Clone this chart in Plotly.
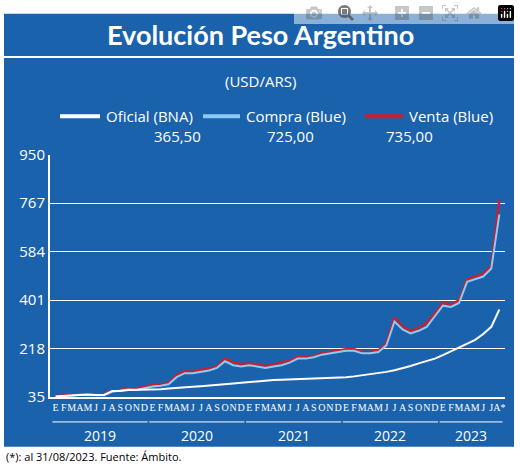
import plotly.graph_objects as go

months = ["E","F","M","A","M","J","J","A","S","O","N","D"]
years = ["2019","2020","2021","2022","2023"]
tick_labels = months*4 + ["E","F","M","A","M","J","J","A*"]

oficial = [37.5,39,42,44,45,43,43,58,58,62,62,63,
           63,64,67,70,72,74,76,78,80,83,86,89,
           92,95,97,99,100,101,102,103,104,105,106,108,
           110,113,117,121,125,130,136,143,152,162,170,180,
           193,207,220,235,251,273,300,365.5]
compra = [37,38,41,44,44,42,42,55,58,63,62,68,
          75,78,83,110,125,125,130,135,145,170,155,150,
          155,150,145,150,155,165,180,180,185,195,200,205,
          210,210,200,200,205,230,320,290,275,285,300,340,
          380,375,390,470,480,490,520,725]
venta = [39,40,43,46,46,44,45,60,62,68,68,74,
         80,82,88,118,132,130,138,142,150,180,165,160,
         162,158,152,158,165,172,185,185,190,200,205,210,
         215,215,205,205,210,240,335,300,285,295,315,350,
         390,385,400,480,490,500,530,780]
legend_names = ["Oficial (BNA)","Compra (Blue)","Venta (Blue)"]
legend_values = ["365,50","725,00","735,00"]
colors = ["white","#8ccaf7","#c8202c"]
yticks = [35,218,401,584,767,950]

x = list(range(len(oficial)))
BG = "#1b62ad"
fig = go.Figure()
fig.add_trace(go.Scatter(x=x, y=venta, mode="lines", line=dict(color=colors[2], width=2.5)))
fig.add_trace(go.Scatter(x=x, y=compra, mode="lines", line=dict(color=colors[1], width=2)))
fig.add_trace(go.Scatter(x=x, y=oficial, mode="lines", line=dict(color=colors[0], width=2)))

def py(p):
    return 1 - p/475

shapes = [dict(type="rect", xref="paper", yref="paper", x0=4/520, x1=514/520, y0=py(455), y1=py(3),
               fillcolor=BG, line=dict(width=0), layer="below"),
          dict(type="line", xref="paper", yref="paper", x0=4/520, x1=514/520, y0=py(48), y1=py(48),
               line=dict(color="white", width=2))]
ann = [dict(text="<b>Evolución Peso Argentino</b>", x=0.5, y=py(25), yanchor="middle",
            font=dict(size=27, color="white", family="Lato")),
       dict(text="(USD/ARS)", x=0.5, y=py(73), yanchor="middle",
            font=dict(size=15, color="white", family="Open Sans")),
       dict(text="(*): al 31/08/2023. Fuente: Ámbito.", x=4/520, y=py(465), yanchor="middle",
            xanchor="left", font=dict(size=11, color="black", family="Open Sans"))]
lx = [(60,100,152),(203,240,290),(365,403,435)]
for i,(l0,l1,c) in enumerate(lx):
    shapes.append(dict(type="line", xref="paper", yref="paper", x0=l0/520, x1=l1/520,
                       y0=py(110), y1=py(110), line=dict(color=colors[i], width=4)))
    ann.append(dict(text=legend_names[i], x=(l1+4)/520, y=py(110), yanchor="middle",
                    xanchor="left", font=dict(size=15, color="white", family="Open Sans")))
    ann.append(dict(text=legend_values[i], x=c/520, y=py(131), yanchor="middle",
                    font=dict(size=15, color="white", family="Open Sans")))
for a_ in ann:
    a_.setdefault("xref", "paper"); a_["yref"] = "paper"; a_["showarrow"] = False
for k, yr in enumerate(years):
    a = k*12 - 0.4
    b = min(k*12+11.4, len(x)-0.6)
    shapes.append(dict(type="line", xref="x", yref="paper", x0=a, x1=b, y0=py(429), y1=py(429),
                       line=dict(color="white", width=1)))
    ann.append(dict(text=yr, x=(a+b)/2, y=py(443), xref="x", yref="paper", showarrow=False,
                    yanchor="middle", font=dict(size=14, color="white", family="Open Sans")))

fig.update_layout(width=520, height=475, margin=dict(l=0, r=0, t=0, b=0, pad=0),
                  paper_bgcolor="white", plot_bgcolor=BG, showlegend=False,
                  shapes=shapes, annotations=ann,
                  xaxis=dict(domain=[50/520, 505/520], range=[-0.7, len(x)-0.3], tickmode="array",
                             tickvals=x, ticktext=tick_labels, tickangle=0, showgrid=False,
                             tickfont=dict(size=10, color="white", family="Liberation Sans Narrow"),
                             showline=True, linecolor="white", linewidth=2, zeroline=False, ticks=""),
                  yaxis=dict(domain=[py(403), py(150)], range=[35, 950], tickvals=yticks,
                             gridcolor="white", gridwidth=1, showline=True, linecolor="white", linewidth=2,
                             tickfont=dict(size=15, color="white", family="Open Sans"), zeroline=False))
fig.write_html("out.html", post_script="document.body.style.margin='0';")
